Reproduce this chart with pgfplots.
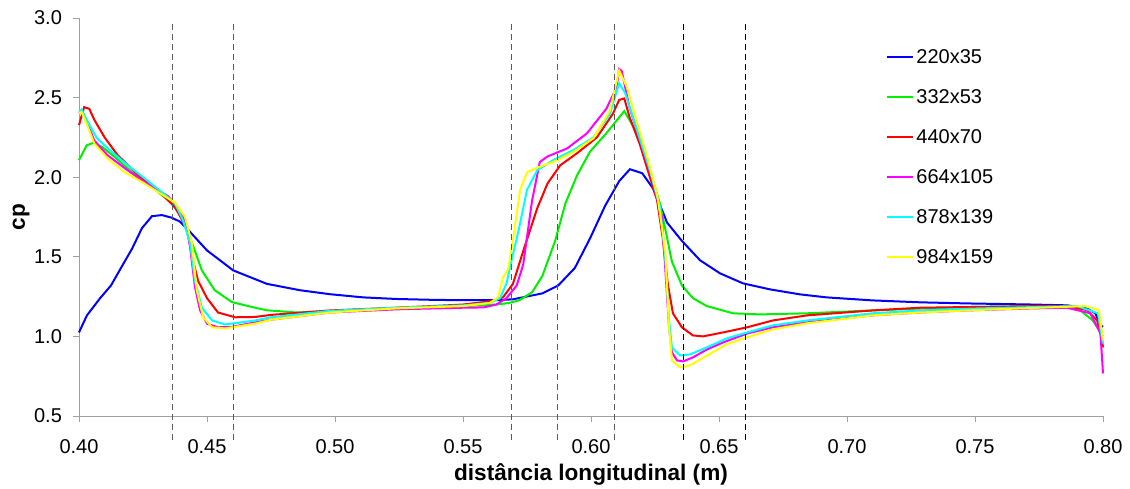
\documentclass[border=0pt]{standalone}
\usepackage{fontspec}
\setmainfont{Liberation Sans}
\usepackage{pgfplots}
\pgfplotsset{compat=1.18}

\definecolor{cpblue}{RGB}{0,0,255}
\definecolor{cpgreen}{RGB}{0,240,0}
\definecolor{cpred}{RGB}{255,0,0}
\definecolor{cpmag}{RGB}{255,0,255}
\definecolor{cpcyan}{RGB}{0,255,255}
\definecolor{cpyel}{RGB}{255,255,0}
\definecolor{axgray}{RGB}{160,160,160}

\begin{document}
\begin{tikzpicture}
\begin{axis}[
  scale only axis, width=512pt, height=199pt,
  xmin=0.4, xmax=0.8, ymin=0.5, ymax=3.0,
  clip=false,
  axis x line*=bottom, axis y line*=left,
  axis line style={axgray, -},
  tick style={axgray, thin},
  tick align=outside, major tick length=3pt,
  xtick={0.40,0.45,0.50,0.55,0.60,0.65,0.70,0.75,0.80},
  ytick={0.5,1.0,1.5,2.0,2.5,3.0},
  /pgf/number format/assume math mode=true,
  xticklabel style={yshift=-5pt, /pgf/number format/fixed, /pgf/number format/fixed zerofill, /pgf/number format/precision=2},
  yticklabel style={xshift=-2pt, /pgf/number format/fixed, /pgf/number format/fixed zerofill, /pgf/number format/precision=1},
  ticklabel style={font=\fontsize{10}{12}\selectfont},
  xlabel={distância longitudinal (m)},
  ylabel={cp},
  xlabel style={font=\bfseries\fontsize{11.3}{13}\selectfont, at={(axis description cs:0.5,-0.1458)}, anchor=center},
  ylabel style={font=\bfseries\fontsize{11.3}{13}\selectfont, at={(axis description cs:-0.0566,0.5)}, anchor=center},
  legend style={draw=none, fill=none, inner sep=0pt, outer sep=0pt,
    at={(axis cs:0.7152,2.129)}, anchor=west, row sep=10.3pt, column sep=0pt,
    nodes={inner sep=1.25pt, text height=7.2pt, text depth=0pt, font=\fontsize{10}{12}\selectfont}},
  legend cell align=left,
  legend image code/.code={\draw[#1, line width=1pt] (0pt,0pt) -- (13pt,0pt);},
  every axis plot/.append style={line width=1pt},
]

% blue 220x35
\addplot[cpblue] coordinates {
(0.400,1.025) (0.4031,1.132) (0.4082,1.239) (0.4125,1.32) (0.4164,1.43) (0.4207,1.55)
(0.4246,1.68) (0.4285,1.755) (0.4324,1.762) (0.4363,1.745) (0.4395,1.72) (0.4426,1.67)
(0.450,1.54) (0.4602,1.415) (0.4734,1.33) (0.4863,1.29) (0.498,1.265) (0.511,1.245)
(0.524,1.235) (0.537,1.23) (0.550,1.227) (0.563,1.227) (0.5695,1.233) (0.581,1.27)
(0.5872,1.32) (0.5937,1.43) (0.5996,1.615) (0.6055,1.82) (0.611,1.975) (0.6152,2.05)
(0.620,2.025) (0.6242,1.93) (0.6281,1.78) (0.6297,1.715) (0.6355,1.60) (0.6426,1.478)
(0.6504,1.396) (0.6594,1.333) (0.670,1.295) (0.6816,1.264) (0.692,1.245) (0.710,1.226)
(0.7285,1.214) (0.747,1.207) (0.7727,1.20) (0.786,1.195) (0.7937,1.176) (0.797,1.145)
(0.799,1.07) (0.800,1.06)
};
\addlegendentry{220x35}

% green 332x53
\addplot[cpgreen] coordinates {
(0.400,2.107) (0.403,2.20) (0.4055,2.215) (0.409,2.19) (0.414,2.126) (0.4207,2.03)
(0.4258,1.97) (0.431,1.905) (0.4363,1.835) (0.4402,1.75) (0.4434,1.62) (0.448,1.415)
(0.453,1.29) (0.4598,1.215) (0.4688,1.18) (0.4734,1.164) (0.485,1.15) (0.50,1.16)
(0.525,1.18) (0.55,1.19) (0.563,1.20) (0.568,1.21) (0.572,1.227) (0.577,1.277)
(0.581,1.38) (0.586,1.60) (0.590,1.835) (0.5945,2.01) (0.5996,2.16) (0.6062,2.28)
(0.613,2.415) (0.619,2.25) (0.6242,1.98) (0.627,1.83) (0.6297,1.62) (0.6316,1.47)
(0.6355,1.32) (0.6398,1.24) (0.6453,1.19) (0.6555,1.145) (0.666,1.138) (0.6844,1.145)
(0.710,1.163) (0.7285,1.175) (0.75,1.185) (0.775,1.19) (0.785,1.185) (0.791,1.165)
(0.796,1.10) (0.800,1.0)
};
\addlegendentry{332x53}

% red 440x70
\addplot[cpred] coordinates {
(0.400,2.327) (0.402,2.44) (0.404,2.43) (0.406,2.36) (0.410,2.25) (0.415,2.14)
(0.422,2.03) (0.4285,1.94) (0.4336,1.875) (0.4375,1.81) (0.440,1.74) (0.4426,1.65)
(0.4445,1.48) (0.4465,1.35) (0.450,1.24) (0.4543,1.15) (0.461,1.12) (0.4688,1.122)
(0.475,1.135) (0.498,1.163) (0.524,1.18) (0.55,1.20) (0.5605,1.22) (0.5656,1.245)
(0.5695,1.33) (0.574,1.56) (0.579,1.805) (0.583,1.96) (0.588,2.075) (0.5945,2.15)
(0.6023,2.25) (0.6086,2.40) (0.611,2.485) (0.613,2.495) (0.615,2.38) (0.619,2.21)
(0.623,2.0) (0.6258,1.855) (0.628,1.62) (0.630,1.33) (0.632,1.145) (0.6355,1.057)
(0.6398,1.006) (0.6438,1.0) (0.6516,1.025) (0.661,1.057) (0.671,1.10) (0.6844,1.132)
(0.710,1.163) (0.7285,1.18) (0.75,1.185) (0.775,1.19) (0.787,1.19) (0.7937,1.165)
(0.7977,1.10) (0.7996,0.975) (0.800,0.93)
};
\addlegendentry{440x70}

% magenta 664x105
\addplot[cpmag] coordinates {
(0.400,2.40) (0.401,2.415) (0.4035,2.33) (0.406,2.23) (0.411,2.14) (0.418,2.055)
(0.4246,1.98) (0.4297,1.93) (0.4348,1.88) (0.4387,1.81) (0.4414,1.73) (0.4434,1.56)
(0.4453,1.31) (0.4473,1.163) (0.450,1.08) (0.4543,1.057) (0.4598,1.06) (0.4688,1.088)
(0.475,1.105) (0.498,1.15) (0.524,1.17) (0.55,1.18) (0.558,1.182) (0.563,1.20)
(0.567,1.24) (0.571,1.32) (0.5735,1.45) (0.577,1.855) (0.580,2.095) (0.583,2.13)
(0.5906,2.18) (0.5984,2.275) (0.606,2.43) (0.610,2.565) (0.611,2.68) (0.612,2.667)
(0.615,2.44) (0.620,2.19) (0.624,1.98) (0.6277,1.75) (0.629,1.43) (0.6305,1.05)
(0.6316,0.90) (0.6336,0.849) (0.636,0.843) (0.6398,0.868) (0.6453,0.918) (0.6516,0.962)
(0.661,1.018) (0.671,1.057) (0.6844,1.088) (0.710,1.132) (0.7285,1.15) (0.747,1.163)
(0.7727,1.176) (0.786,1.18) (0.795,1.145) (0.799,1.02) (0.800,0.767)
};
\addlegendentry{664x105}

% cyan 878x139
\addplot[cpcyan] coordinates {
(0.400,2.41) (0.401,2.425) (0.4035,2.345) (0.407,2.245) (0.413,2.157) (0.419,2.075)
(0.4258,1.99) (0.4324,1.905) (0.4375,1.835) (0.4406,1.73) (0.4434,1.585) (0.4453,1.35)
(0.448,1.18) (0.452,1.10) (0.457,1.075) (0.462,1.085) (0.4688,1.10) (0.475,1.12)
(0.498,1.16) (0.524,1.18) (0.55,1.195) (0.5605,1.21) (0.5645,1.24) (0.567,1.333)
(0.569,1.48) (0.5715,1.65) (0.575,1.92) (0.579,2.044) (0.5852,2.107) (0.593,2.17)
(0.601,2.25) (0.6074,2.40) (0.611,2.59) (0.6133,2.53) (0.618,2.295) (0.623,2.044)
(0.627,1.81) (0.629,1.50) (0.6305,1.10) (0.6316,0.93) (0.6348,0.88) (0.6387,0.887)
(0.6453,0.931) (0.653,0.987) (0.661,1.025) (0.671,1.069) (0.6844,1.10) (0.710,1.145)
(0.7285,1.163) (0.75,1.175) (0.775,1.185) (0.79,1.19) (0.798,1.145) (0.800,0.955)
};
\addlegendentry{878x139}

% yellow 984x159
\addplot[cpyel] coordinates {
(0.400,2.40) (0.401,2.41) (0.4035,2.315) (0.406,2.21) (0.411,2.12) (0.418,2.03)
(0.4246,1.97) (0.431,1.905) (0.4375,1.84) (0.4414,1.75) (0.4441,1.585) (0.446,1.29)
(0.4485,1.12) (0.452,1.057) (0.457,1.05) (0.4688,1.08) (0.475,1.105) (0.498,1.15)
(0.524,1.176) (0.55,1.19) (0.5605,1.21) (0.5637,1.245) (0.5656,1.37) (0.5676,1.42)
(0.5695,1.60) (0.5723,1.92) (0.575,2.03) (0.579,2.06) (0.5852,2.095) (0.593,2.157)
(0.601,2.245) (0.6074,2.42) (0.611,2.67) (0.614,2.566) (0.618,2.34) (0.6223,2.107)
(0.626,1.875) (0.629,1.54) (0.6305,1.05) (0.6316,0.849) (0.6348,0.805) (0.6387,0.818)
(0.6453,0.88) (0.653,0.95) (0.661,0.994) (0.671,1.044) (0.6844,1.082) (0.710,1.132)
(0.7285,1.15) (0.75,1.165) (0.775,1.18) (0.793,1.19) (0.7984,1.165) (0.800,0.975)
};
\addlegendentry{984x159}

% dashed markers
\addplot[forget plot, densely dashed, thin, black!65] coordinates {(0.4363,0.35) (0.4363,2.97)};
\addplot[forget plot, densely dashed, thin, black!65] coordinates {(0.4602,0.35) (0.4602,2.97)};
\addplot[forget plot, densely dashed, thin, black!65] coordinates {(0.5688,0.35) (0.5688,2.97)};
\addplot[forget plot, densely dashed, thin, black!65] coordinates {(0.5867,0.35) (0.5867,2.97)};
\addplot[forget plot, densely dashed, thin, black!65] coordinates {(0.6090,0.35) (0.6090,2.97)};
\addplot[forget plot, densely dashed, thin, black] coordinates {(0.6359,0.35) (0.6359,2.97)};
\addplot[forget plot, densely dashed, thin, black] coordinates {(0.6605,0.35) (0.6605,2.97)};
\end{axis}
\pgfresetboundingbox
\path ([shift={(-39.5pt,-36.5pt)}]current axis.south west) rectangle ([shift={(13.5pt,9pt)}]current axis.north east);
\end{tikzpicture}
\end{document}
